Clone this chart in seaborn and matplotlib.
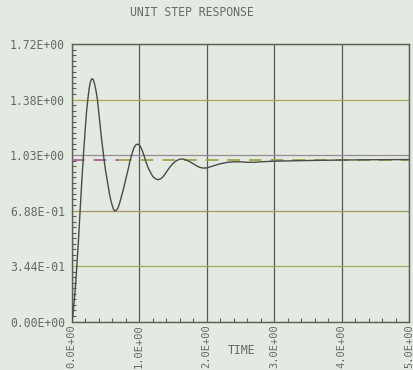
import numpy as np
import pandas as pd
import matplotlib
matplotlib.use("Agg")
import matplotlib.pyplot as plt
from matplotlib.ticker import FixedLocator, MultipleLocator
import seaborn as sns

# Step response samples (time, output)
time = [0.00, 0.02, 0.04, 0.06, 0.08, 0.10, 0.125, 0.15, 0.175, 0.20,
        0.22, 0.24, 0.26, 0.28, 0.30, 0.32, 0.34, 0.36, 0.38, 0.40,
        0.42, 0.44, 0.46, 0.48, 0.50, 0.52, 0.54, 0.56, 0.58, 0.60,
        0.62, 0.64, 0.66, 0.68, 0.70, 0.72, 0.74, 0.76, 0.78, 0.80,
        0.82, 0.84, 0.86, 0.88, 0.90, 0.92, 0.95, 0.98, 1.01, 1.04,
        1.07, 1.10, 1.13, 1.16, 1.20, 1.24, 1.28, 1.32, 1.36, 1.40,
        1.45, 1.50, 1.55, 1.60, 1.65, 1.70, 1.75, 1.80, 1.85, 1.90,
        1.95, 2.00, 2.10, 2.20, 2.30, 2.40, 2.50, 2.60, 2.70, 2.80,
        2.90, 3.00, 3.50, 4.00, 4.50, 5.00]
response = [0.000, 0.050, 0.140, 0.240, 0.370, 0.500, 0.690, 0.870, 1.040, 1.190,
            1.300, 1.380, 1.450, 1.490, 1.505, 1.500, 1.470, 1.430, 1.380, 1.300,
            1.220, 1.140, 1.070, 1.000, 0.940, 0.890, 0.840, 0.790, 0.750, 0.720,
            0.695, 0.685, 0.690, 0.700, 0.720, 0.750, 0.780, 0.810, 0.845, 0.880,
            0.915, 0.950, 0.990, 1.020, 1.050, 1.075, 1.095, 1.100, 1.090, 1.065,
            1.030, 0.990, 0.955, 0.930, 0.900, 0.885, 0.879, 0.885, 0.900, 0.925,
            0.955, 0.980, 0.997, 1.006, 1.007, 1.000, 0.990, 0.978, 0.965, 0.955,
            0.951, 0.952, 0.965, 0.978, 0.986, 0.990, 0.990, 0.987, 0.987, 0.990,
            0.992, 0.994, 0.998, 1.001, 1.003, 1.004]

# Unit reference level
ref_time_a = [0.0, 0.70]
ref_time_b = [0.70, 5.0]
ref_level = 1.0

x_ticks = [0.0, 1.0, 2.0, 3.0, 4.0, 5.0]
x_labels = ["0.0E+00", "1.0E+00", "2.0E+00", "3.0E+00", "4.0E+00", "5.0E+00"]
y_ticks = [0.0, 0.344, 0.688, 1.032, 1.376, 1.72]
y_labels = ["0.00E+00", "3.44E-01", "6.88E-01", "1.03E+00", "1.38E+00", "1.72E+00"]

sns.set_style("white")
plt.rcParams["font.family"] = ["DejaVu Sans Mono"]

bg = "#e3eae2"
txt = "#666a66"
fig = plt.figure(figsize=(4.13, 3.70), dpi=100, facecolor=bg)
ax = fig.add_axes([0.1736, 0.131, 0.8174, 0.750], facecolor=bg)

df = pd.DataFrame({"t": time, "y": response})
ra = pd.DataFrame({"t": ref_time_a, "y": [ref_level] * len(ref_time_a)})
rb = pd.DataFrame({"t": ref_time_b, "y": [ref_level] * len(ref_time_b)})

sns.lineplot(data=ra, x="t", y="y", ax=ax, color="#a8609e", lw=1.3,
             zorder=3).lines[-1].set_dashes((7, 5))
sns.lineplot(data=rb, x="t", y="y", ax=ax, color="#a4a24c", lw=1.3,
             zorder=3).lines[-1].set_dashes((7, 5))
sns.lineplot(data=df, x="t", y="y", ax=ax, color="#4a4a48", lw=1.0,
             sort=False, zorder=4)

ax.set_xlim(0, 5)
ax.set_ylim(0, 1.72)
ax.xaxis.set_major_locator(FixedLocator(x_ticks))
ax.yaxis.set_major_locator(FixedLocator(y_ticks))
ax.set_xticklabels(x_labels, rotation=90, fontsize=7.5, color=txt)
ax.set_yticklabels(y_labels, fontsize=8.3, color=txt)
ax.xaxis.set_minor_locator(MultipleLocator(0.2))
ax.yaxis.set_minor_locator(MultipleLocator(0.0344))
ax.tick_params(axis="y", which="major", length=0, pad=5)
ax.tick_params(axis="x", which="major", length=0, pad=2)
ax.tick_params(which="minor", direction="in", length=3, width=0.8,
               color="#5a5a55", left=True, bottom=True)

ax.grid(True, which="major", lw=0.9)
for gl in ax.get_xgridlines():
    gl.set_color("#58585a")
for gl, col in zip(ax.get_ygridlines(),
                   ["#a8a050", "#a6a85a", "#a89460", "#9a8a92", "#b0a458", "#a8a050"]):
    gl.set_color(col)
ax.set_axisbelow(True)

for s in ax.spines.values():
    s.set_color("#5e5e56")
    s.set_linewidth(1.0)

ax.set_xlabel("")
ax.set_ylabel("")
fig.text(192 / 413, 1 - 13 / 370, "UNIT STEP RESPONSE", ha="center", va="center",
         fontsize=8.3, color=txt)
fig.text(242 / 413, 1 - 350 / 370, "TIME", ha="center", va="center",
         fontsize=8.3, color=txt)

fig.savefig("out.png", dpi=100, facecolor=bg)
